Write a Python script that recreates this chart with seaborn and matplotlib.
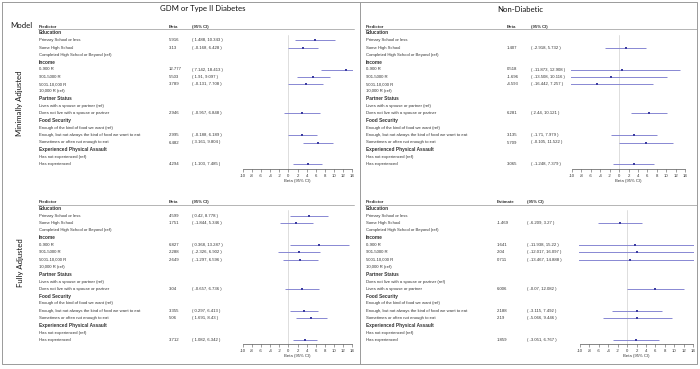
import matplotlib
matplotlib.use("Agg")
import matplotlib.pyplot as plt
import matplotlib.transforms as mtrans
from matplotlib.lines import Line2D
import seaborn as sns
import pandas as pd

sns.set_style("white")
plt.rcParams['font.family'] = ['Liberation Sans', 'DejaVu Sans']

# ---------------- data ----------------
predictors = [
    "Education", "Primary School or less", "Some High School",
    "Completed High School or Beyond (ref)",
    "Income", "0-900 R", "901-5000 R", "5001-10,000 R", "10,000 R (ref)",
    "Partner Status", "Lives with a spouse or partner (ref)",
    "Does not live with a spouse or partner",
    "Food Security", "Enough of the kind of food we want (ref)",
    "Enough, but not always the kind of food we want to eat",
    "Sometimes or often not enough to eat",
    "Experienced Physical Assault", "Has not experienced (ref)", "Has experienced",
]
predictors_nd_full = list(predictors)
predictors_nd_full[10] = "Does not live with a spouse or partner (ref)"
predictors_nd_full[11] = "Lives with a spouse or partner"
bold_rows = [0, 4, 9, 12, 16]

N = None
gdm_min_beta = [N, 5.916, 3.13, N, N, 12.777, 5.503, 3.789, N, N, N, 2.946, N, N, 2.995, 6.482, N, N, 4.294]
gdm_min_lo = [N, 1.488, -0.168, N, N, 7.142, 1.91, -0.131, N, N, N, -0.957, N, N, -0.188, 3.161, N, N, 1.103]
gdm_min_hi = [N, 10.343, 6.428, N, N, 18.413, 9.097, 7.708, N, N, N, 6.848, N, N, 6.189, 9.804, N, N, 7.485]

nd_min_beta = [N, N, 1.407, N, N, 0.518, -1.696, -4.593, N, N, N, 6.281, N, N, 3.135, 5.709, N, N, 3.065]
nd_min_lo = [N, N, -2.918, N, N, -11.873, -13.508, -16.442, N, N, N, 2.44, N, N, -1.71, -0.105, N, N, -1.248]
nd_min_hi = [N, N, 5.732, N, N, 12.908, 10.116, 7.257, N, N, N, 10.121, N, N, 7.979, 11.522, N, N, 7.379]

gdm_full_beta = [N, 4.599, 1.751, N, N, 6.827, 2.288, 2.649, N, N, N, 3.04, N, N, 3.355, 5.06, N, N, 3.712]
gdm_full_lo = [N, 0.42, -1.844, N, N, 0.368, -2.326, -1.297, N, N, N, -0.657, N, N, 0.297, 1.691, N, N, 1.082]
gdm_full_hi = [N, 8.778, 5.346, N, N, 13.287, 6.902, 6.596, N, N, N, 6.736, N, N, 6.413, 8.43, N, N, 6.342]

nd_full_beta = [N, N, -1.469, N, N, 1.641, 2.04, 0.711, N, N, N, 6.006, N, N, 2.188, 2.19, N, N, 1.859]
nd_full_lo = [N, N, -6.209, N, N, -11.938, -12.017, -13.467, N, N, N, -0.07, N, N, -3.115, -5.066, N, N, -3.051]
nd_full_hi = [N, N, 3.27, N, N, 15.22, 16.097, 14.888, N, N, N, 12.082, N, N, 7.492, 9.446, N, N, 6.767]

x_ticks = list(range(-10, 15, 2))

# ---------------- layout ----------------
W, H = 700, 369
fig = plt.figure(figsize=(7, 3.69), dpi=100)
TXT = '#333333'
LINEC = '#9a9a9a'
CI_C = '#8080d0'
PT_C = '#3c3ca0'
FS = 3.1

def fx(px):
    return px / W

def fy(py):
    return 1 - py / H

def panel(x_m10, x_14, row0, sp, ax_top, ax_bot, labels, beta, lo, hi,
          col_pred, col_beta, col_ci, beta_header, uline_x0, uline_x1):
    ppu = (x_14 - x_m10) / 24.0
    xl0, xl1 = -10.3, 14.3
    left = x_m10 + (xl0 + 10) * ppu
    right = x_m10 + (xl1 + 10) * ppu
    ax = fig.add_axes([fx(left), fy(ax_bot), fx(right - left), (ax_bot - ax_top) / H])
    ax.set_xlim(xl0, xl1)
    ax.set_ylim((ax_bot - row0) / sp, (ax_top - row0) / sp)
    ax.patch.set_alpha(0)
    ax.axvline(0, color='#d8d8d8', lw=0.6, zorder=0)

    df = pd.DataFrame({'row': list(range(len(labels))), 'beta': beta, 'lo': lo, 'hi': hi}).dropna()
    ax.hlines(df['row'], df['lo'], df['hi'], color=CI_C, lw=0.65, zorder=2)
    sns.scatterplot(data=df, x='beta', y='row', ax=ax, marker='s', s=3.5,
                    color=PT_C, edgecolor=PT_C, linewidth=0, legend=False, zorder=3)

    for s in ['left', 'top', 'right']:
        ax.spines[s].set_visible(False)
    ax.spines['bottom'].set_bounds(-10, 14)
    ax.spines['bottom'].set_linewidth(0.5)
    ax.spines['bottom'].set_color('#555555')
    ax.set_yticks([])
    ax.set_ylabel('')
    ax.set_xticks(x_ticks)
    ax.set_xticklabels([str(t) for t in x_ticks])
    ax.tick_params(axis='x', direction='out', length=2.2, width=0.4, color='#555555',
                   labelsize=FS, pad=1.2, labelcolor=TXT, bottom=True)
    ax.set_xlabel('Beta (95% CI)', fontsize=FS, labelpad=0.8, color=TXT)

    tr = mtrans.blended_transform_factory(fig.transFigure, ax.transData)
    hy = (row0 - 6.3 - row0) / sp
    for x, t in [(col_pred, 'Predictor'), (col_beta, beta_header), (col_ci, '(95% CI)')]:
        ax.text(fx(x), hy, t, transform=tr, fontsize=FS, fontweight='bold',
                va='center', ha='left', color=TXT, clip_on=False)
    uy = fy(row0 - 3.6)
    fig.add_artist(Line2D([fx(uline_x0), fx(uline_x1)], [uy, uy], color='#a8a8a8', lw=0.6))

    for i, lab in enumerate(labels):
        bold = i in bold_rows
        ax.text(fx(col_pred), i, lab, transform=tr, fontsize=FS + (0.35 if bold else 0),
                fontweight='bold' if bold else 'normal', va='center', ha='left',
                color=TXT, clip_on=False)
        if beta[i] is not None:
            ax.text(fx(col_beta), i, str(beta[i]), transform=tr, fontsize=FS,
                    va='center', ha='left', color=TXT, clip_on=False)
            ax.text(fx(col_ci), i, f"( {lo[i]}, {hi[i]} )", transform=tr, fontsize=FS,
                    va='center', ha='left', color=TXT, clip_on=False)
    return ax

# top-left: GDM minimally adjusted
panel(243, 352, 33.0, 7.3, 35, 169, predictors, gdm_min_beta, gdm_min_lo, gdm_min_hi,
      39, 169, 192, 'Beta', 38, 354)
# top-right: non-diabetic minimally adjusted
panel(572, 685, 33.0, 7.3, 35, 169, predictors, nd_min_beta, nd_min_lo, nd_min_hi,
      366, 507, 531, 'Beta', 365, 697)
# bottom-left: GDM fully adjusted
panel(243, 352, 208.3, 7.32, 210.3, 344.3, predictors, gdm_full_beta, gdm_full_lo, gdm_full_hi,
      39, 169, 192, 'Beta', 38, 354)
# bottom-right: non-diabetic fully adjusted
panel(580, 693, 208.3, 7.32, 210.3, 344.3, predictors_nd_full, nd_full_beta, nd_full_lo, nd_full_hi,
      366, 497, 527, 'Estimate', 365, 697)

# titles and model labels
fig.text(fx(203), fy(9), 'GDM or Type II Diabetes', fontsize=5.6, ha='center', va='center',
         color='#111111', family=['Lato', 'DejaVu Sans'])
fig.text(fx(520), fy(9), 'Non-Diabetic', fontsize=5.6, ha='center', va='center',
         color='#111111', family=['Lato', 'DejaVu Sans'])
fig.text(fx(21), fy(25), 'Model', fontsize=5.6, ha='center', va='center',
         color='#111111', family=['Lato', 'DejaVu Sans'])
fig.text(fx(20), fy(103), 'Minimally Adjusted', fontsize=5.6, ha='center', va='center',
         rotation=90, color='#111111', family=['Lato', 'DejaVu Sans'])
fig.text(fx(20), fy(263), 'Fully Adjusted', fontsize=5.6, ha='center', va='center',
         rotation=90, color='#111111', family=['Lato', 'DejaVu Sans'])

# frame lines
box = [(2, 2), (697, 2), (697, 364), (2, 364), (2, 2)]
fig.add_artist(Line2D([fx(p[0]) for p in box], [fy(p[1]) for p in box], color=LINEC, lw=0.7))
fig.add_artist(Line2D([fx(360), fx(360)], [fy(2), fy(364)], color=LINEC, lw=0.7))

fig.savefig('out.png', dpi=100)
